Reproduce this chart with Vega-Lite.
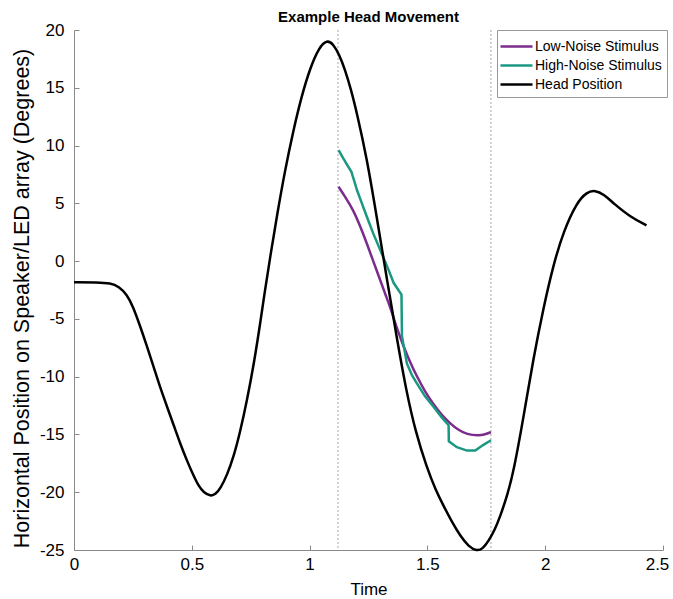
{
  "$schema": "https://vega.github.io/schema/vega-lite/v6.json",
  "autosize": {"type": "none"},
  "padding": {"left": 74, "top": 30, "right": 10, "bottom": 49},
  "width": 589,
  "height": 520,
  "background": "white",
  "title": {"text": "Example Head Movement", "font": "Liberation Sans", "fontSize": 15, "fontWeight": "bold", "anchor": "middle", "baseline": "alphabetic", "offset": 8, "dy": 24, "color": "black"},
  "config": {
    "font": "Liberation Sans",
    "view": {"stroke": null},
    "axis": {"grid": false, "domainColor": "#8a8a8a", "tickColor": "#8a8a8a", "tickSize": -5, "labelColor": "black", "labelFont": "Liberation Sans", "labelFontSize": 17, "titleFont": "Liberation Sans", "titleFontWeight": "normal", "titleColor": "black"}
  },
  "datasets": {
    "curves": [
      {"t": 0, "v": -1.84, "s": "Head Position"},
      {"t": 0.1, "v": -1.84, "s": "Head Position"},
      {"t": 0.155, "v": -1.9, "s": "Head Position"},
      {"t": 0.19, "v": -2.2, "s": "Head Position"},
      {"t": 0.225, "v": -2.9, "s": "Head Position"},
      {"t": 0.25, "v": -3.9, "s": "Head Position"},
      {"t": 0.282, "v": -5.7, "s": "Head Position"},
      {"t": 0.31, "v": -7.4, "s": "Head Position"},
      {"t": 0.338, "v": -9.15, "s": "Head Position"},
      {"t": 0.365, "v": -10.9, "s": "Head Position"},
      {"t": 0.395, "v": -12.6, "s": "Head Position"},
      {"t": 0.425, "v": -14.3, "s": "Head Position"},
      {"t": 0.451, "v": -15.8, "s": "Head Position"},
      {"t": 0.48, "v": -17.3, "s": "Head Position"},
      {"t": 0.508, "v": -18.6, "s": "Head Position"},
      {"t": 0.53, "v": -19.5, "s": "Head Position"},
      {"t": 0.55, "v": -20.0, "s": "Head Position"},
      {"t": 0.579, "v": -20.35, "s": "Head Position"},
      {"t": 0.6, "v": -20.2, "s": "Head Position"},
      {"t": 0.621, "v": -19.7, "s": "Head Position"},
      {"t": 0.65, "v": -18.5, "s": "Head Position"},
      {"t": 0.678, "v": -16.9, "s": "Head Position"},
      {"t": 0.705, "v": -14.8, "s": "Head Position"},
      {"t": 0.735, "v": -12.0, "s": "Head Position"},
      {"t": 0.765, "v": -8.7, "s": "Head Position"},
      {"t": 0.791, "v": -5.3, "s": "Head Position"},
      {"t": 0.81, "v": -2.6, "s": "Head Position"},
      {"t": 0.833, "v": 0.4, "s": "Head Position"},
      {"t": 0.862, "v": 4.0, "s": "Head Position"},
      {"t": 0.895, "v": 7.8, "s": "Head Position"},
      {"t": 0.932, "v": 11.4, "s": "Head Position"},
      {"t": 0.965, "v": 14.2, "s": "Head Position"},
      {"t": 1.002, "v": 16.7, "s": "Head Position"},
      {"t": 1.04, "v": 18.5, "s": "Head Position"},
      {"t": 1.074, "v": 19.15, "s": "Head Position"},
      {"t": 1.1, "v": 18.8, "s": "Head Position"},
      {"t": 1.125, "v": 17.9, "s": "Head Position"},
      {"t": 1.15, "v": 16.6, "s": "Head Position"},
      {"t": 1.175, "v": 14.9, "s": "Head Position"},
      {"t": 1.201, "v": 12.8, "s": "Head Position"},
      {"t": 1.243, "v": 8.9, "s": "Head Position"},
      {"t": 1.286, "v": 3.7, "s": "Head Position"},
      {"t": 1.33, "v": -1.8, "s": "Head Position"},
      {"t": 1.373, "v": -7.0, "s": "Head Position"},
      {"t": 1.41, "v": -11.2, "s": "Head Position"},
      {"t": 1.45, "v": -14.8, "s": "Head Position"},
      {"t": 1.498, "v": -17.9, "s": "Head Position"},
      {"t": 1.535, "v": -19.8, "s": "Head Position"},
      {"t": 1.569, "v": -21.2, "s": "Head Position"},
      {"t": 1.605, "v": -22.6, "s": "Head Position"},
      {"t": 1.64, "v": -23.8, "s": "Head Position"},
      {"t": 1.675, "v": -24.7, "s": "Head Position"},
      {"t": 1.71, "v": -25.1, "s": "Head Position"},
      {"t": 1.735, "v": -24.9, "s": "Head Position"},
      {"t": 1.76, "v": -24.2, "s": "Head Position"},
      {"t": 1.785, "v": -23.3, "s": "Head Position"},
      {"t": 1.809, "v": -22.1, "s": "Head Position"},
      {"t": 1.84, "v": -20.2, "s": "Head Position"},
      {"t": 1.866, "v": -18.2, "s": "Head Position"},
      {"t": 1.908, "v": -13.5, "s": "Head Position"},
      {"t": 1.95, "v": -8.4, "s": "Head Position"},
      {"t": 1.993, "v": -4.0, "s": "Head Position"},
      {"t": 2.035, "v": -0.3, "s": "Head Position"},
      {"t": 2.078, "v": 2.6, "s": "Head Position"},
      {"t": 2.135, "v": 5.1, "s": "Head Position"},
      {"t": 2.175, "v": 5.95, "s": "Head Position"},
      {"t": 2.212, "v": 6.15, "s": "Head Position"},
      {"t": 2.25, "v": 5.75, "s": "Head Position"},
      {"t": 2.29, "v": 5.0, "s": "Head Position"},
      {"t": 2.36, "v": 3.84, "s": "Head Position"},
      {"t": 2.43, "v": 3.1, "s": "Head Position"},
      {"t": 1.123, "v": 6.43, "s": "Low-Noise Stimulus"},
      {"t": 1.15, "v": 5.6, "s": "Low-Noise Stimulus"},
      {"t": 1.186, "v": 4.4, "s": "Low-Noise Stimulus"},
      {"t": 1.215, "v": 3.0, "s": "Low-Noise Stimulus"},
      {"t": 1.243, "v": 1.53, "s": "Low-Noise Stimulus"},
      {"t": 1.27, "v": 0.0, "s": "Low-Noise Stimulus"},
      {"t": 1.3, "v": -1.65, "s": "Low-Noise Stimulus"},
      {"t": 1.32, "v": -2.8, "s": "Low-Noise Stimulus"},
      {"t": 1.342, "v": -3.96, "s": "Low-Noise Stimulus"},
      {"t": 1.37, "v": -5.8, "s": "Low-Noise Stimulus"},
      {"t": 1.399, "v": -7.4, "s": "Low-Noise Stimulus"},
      {"t": 1.43, "v": -8.9, "s": "Low-Noise Stimulus"},
      {"t": 1.456, "v": -10.0, "s": "Low-Noise Stimulus"},
      {"t": 1.49, "v": -11.3, "s": "Low-Noise Stimulus"},
      {"t": 1.526, "v": -12.4, "s": "Low-Noise Stimulus"},
      {"t": 1.56, "v": -13.3, "s": "Low-Noise Stimulus"},
      {"t": 1.597, "v": -14.05, "s": "Low-Noise Stimulus"},
      {"t": 1.63, "v": -14.6, "s": "Low-Noise Stimulus"},
      {"t": 1.668, "v": -15.0, "s": "Low-Noise Stimulus"},
      {"t": 1.717, "v": -15.1, "s": "Low-Noise Stimulus"},
      {"t": 1.745, "v": -15.0, "s": "Low-Noise Stimulus"},
      {"t": 1.77, "v": -14.8, "s": "Low-Noise Stimulus"},
      {"t": 1.123, "v": 9.6, "s": "High-Noise Stimulus"},
      {"t": 1.14, "v": 9.0, "s": "High-Noise Stimulus"},
      {"t": 1.16, "v": 8.3, "s": "High-Noise Stimulus"},
      {"t": 1.178, "v": 7.7, "s": "High-Noise Stimulus"},
      {"t": 1.183, "v": 7.35, "s": "High-Noise Stimulus"},
      {"t": 1.19, "v": 6.9, "s": "High-Noise Stimulus"},
      {"t": 1.201, "v": 6.15, "s": "High-Noise Stimulus"},
      {"t": 1.22, "v": 5.1, "s": "High-Noise Stimulus"},
      {"t": 1.243, "v": 3.84, "s": "High-Noise Stimulus"},
      {"t": 1.27, "v": 2.4, "s": "High-Noise Stimulus"},
      {"t": 1.3, "v": 0.95, "s": "High-Noise Stimulus"},
      {"t": 1.33, "v": -0.5, "s": "High-Noise Stimulus"},
      {"t": 1.357, "v": -1.9, "s": "High-Noise Stimulus"},
      {"t": 1.39, "v": -2.9, "s": "High-Noise Stimulus"},
      {"t": 1.392, "v": -6.5, "s": "High-Noise Stimulus"},
      {"t": 1.413, "v": -8.85, "s": "High-Noise Stimulus"},
      {"t": 1.435, "v": -9.9, "s": "High-Noise Stimulus"},
      {"t": 1.456, "v": -10.6, "s": "High-Noise Stimulus"},
      {"t": 1.49, "v": -11.7, "s": "High-Noise Stimulus"},
      {"t": 1.526, "v": -12.6, "s": "High-Noise Stimulus"},
      {"t": 1.56, "v": -13.5, "s": "High-Noise Stimulus"},
      {"t": 1.59, "v": -14.2, "s": "High-Noise Stimulus"},
      {"t": 1.591, "v": -15.6, "s": "High-Noise Stimulus"},
      {"t": 1.625, "v": -16.1, "s": "High-Noise Stimulus"},
      {"t": 1.668, "v": -16.4, "s": "High-Noise Stimulus"},
      {"t": 1.703, "v": -16.4, "s": "High-Noise Stimulus"},
      {"t": 1.738, "v": -15.9, "s": "High-Noise Stimulus"},
      {"t": 1.77, "v": -15.5, "s": "High-Noise Stimulus"}
    ],
    "markers": [{"t": 1.1205}, {"t": 1.7696}]
  },
  "layer": [
    {
      "data": {"name": "markers"},
      "mark": {"type": "rule", "color": "#a8a8a8", "strokeWidth": 1, "strokeDash": [2, 2]},
      "encoding": {"x": {"field": "t", "type": "quantitative"}}
    },
    {
      "data": {"name": "curves"},
      "transform": [{"filter": "datum.s === 'Low-Noise Stimulus'"}],
      "mark": {"type": "line", "interpolate": "basis", "strokeWidth": 2.5},
      "encoding": {
        "x": {"field": "t", "type": "quantitative"},
        "y": {"field": "v", "type": "quantitative"},
        "color": {"field": "s", "type": "nominal"},
        "order": {"field": "t", "type": "quantitative"}
      }
    },
    {
      "data": {"name": "curves"},
      "transform": [{"filter": "datum.s === 'High-Noise Stimulus'"}],
      "mark": {"type": "line", "interpolate": "linear", "strokeWidth": 2.5},
      "encoding": {
        "x": {"field": "t", "type": "quantitative"},
        "y": {"field": "v", "type": "quantitative"},
        "color": {"field": "s", "type": "nominal"},
        "order": {"field": "t", "type": "quantitative"}
      }
    },
    {
      "data": {"name": "curves"},
      "transform": [{"filter": "datum.s === 'Head Position'"}],
      "mark": {"type": "line", "interpolate": "basis", "strokeWidth": 2.5},
      "encoding": {
        "x": {"field": "t", "type": "quantitative", "scale": {"domain": [0, 2.5], "nice": false, "zero": false},
              "axis": {"values": [0, 0.5, 1, 1.5, 2, 2.5], "labelExpr": "'' + datum.value", "labelPadding": 11, "labelOffset": {"condition": {"test": "datum.value == 2.5", "value": -6}, "value": 0}, "title": "Time", "titleFontSize": 17, "titleX": 294.5, "titleY": 44, "titleBaseline": "alphabetic", "titleAnchor": "middle", "labelFlush": false}},
        "y": {"field": "v", "type": "quantitative", "scale": {"domain": [-25, 20], "nice": false, "zero": false},
              "axis": {"values": [-25, -20, -15, -10, -5, 0, 5, 10, 15, 20], "labelExpr": "'' + datum.value", "labelPadding": 15, "title": "Horizontal Position on Speaker/LED array (Degrees)", "titleFontSize": 21.5, "titleX": -52, "titleY": 268, "titleAngle": -90, "titleBaseline": "middle", "titleAnchor": "middle", "labelFlush": false}},
        "color": {"field": "s", "type": "nominal",
                  "scale": {"domain": ["Low-Noise Stimulus", "High-Noise Stimulus", "Head Position"], "range": ["#7b2c8c", "#1a9882", "#000000"]},
                  "legend": {"orient": "none", "legendX": 423, "legendY": 0, "title": null, "symbolType": "M-1.6,0H1.6", "symbolSize": 400, "symbolStrokeWidth": 2.5, "symbolOffset": 3, "labelFontSize": 14, "labelFont": "Liberation Sans", "labelColor": "black", "labelOffset": 7, "padding": 5, "rowPadding": 0, "strokeColor": "#999999", "fillColor": "white"}},
        "order": {"field": "t", "type": "quantitative"}
      }
    }
  ]
}
